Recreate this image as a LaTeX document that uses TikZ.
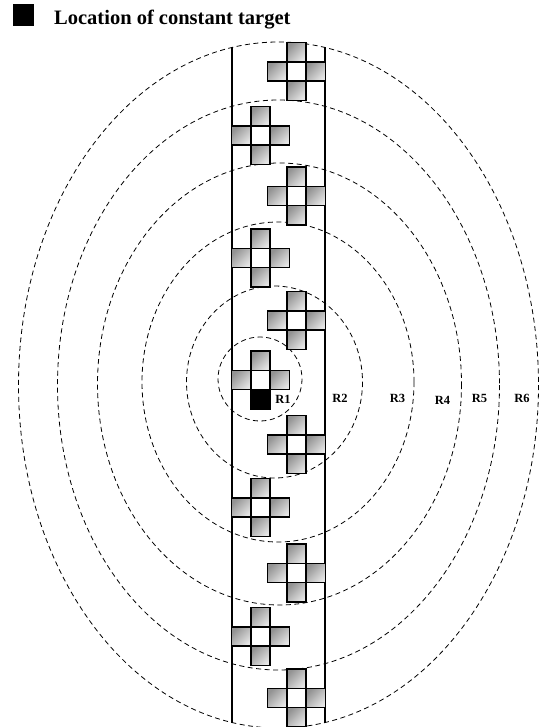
\documentclass[tikz,border=0pt]{standalone}
\usepackage{fontspec}
\setmainfont{Liberation Serif}
\usepackage{tikz}
\usetikzlibrary{positioning}

\begin{document}
\begin{tikzpicture}[
  x=1pt, y=-1pt,
  ring/.style={draw, dash pattern=on 5pt off 3.5pt, line width=0.8pt},
  wall/.style={draw, line width=1.4pt},
  cell/.style={draw, line width=1.6pt, shading=axis, top color=gray!85,
    bottom color=gray!20, shading angle=45},
  hole/.style={draw, line width=1.6pt, fill=white},
  target/.style={draw, line width=1.6pt, fill=black},
  rlabel/.style={font=\fontsize{12.5}{14}\selectfont\bfseries, inner sep=0pt}
]
\useasboundingbox (0,0) rectangle (539,727);

% rings round the target
\draw[ring] (260,379) circle [radius=42];
\draw[ring] (274.5,382) ellipse [x radius=88, y radius=96];
\draw[ring] (278,382) ellipse [x radius=136, y radius=160];
\draw[ring] (279.5,384) ellipse [x radius=182, y radius=221];
\draw[ring] (278.5,385) ellipse [x radius=221, y radius=285];
\draw[ring] (278.5,385) ellipse [x radius=260, y radius=343];

% corridor
\coordinate (wl top) at (232,47.5);
\coordinate (wl bot) at (232,722.5);
\coordinate (wr top) at (325,47.5);
\coordinate (wr bot) at (325,722.5);
\draw[wall] (wl top) -- (wl bot);
\draw[wall] (wr top) -- (wr bot);

% crosses
\def\cs{19.3}
\foreach \cx/\cy in {296.5/71.5, 260.5/135.5, 296.5/196, 260.5/258,
    296.5/320.5, 260.5/380, 296.5/444.5, 260.5/507.5, 296.5/573,
    260.5/636.5, 296.5/698} {
  \foreach \dx/\dy in {0/-1, -1/0, 1/0, 0/1}
    \draw[cell] (\cx+\dx*\cs-\cs/2, \cy+\dy*\cs-\cs/2) rectangle ++(\cs,\cs);
  \draw[hole] (\cx-\cs/2, \cy-\cs/2) rectangle ++(\cs,\cs);
}
% constant target
\draw[target] (260.5-\cs/2, 380+\cs/2) rectangle ++(\cs,\cs);

% ring labels
\node[rlabel] (r1) at (283,399) {R1};
\node[rlabel] (r2) at (340,398) {R2};
\node[rlabel] (r3) at (397.5,398) {R3};
\node[rlabel] (r4) at (442.5,400) {R4};
\node[rlabel] (r5) at (479.5,398) {R5};
\node[rlabel] (r6) at (522,398) {R6};

% legend
\node[fill=black, minimum width=21pt, minimum height=22pt, inner sep=0pt]
  (key) at (23.5,15) {};
\node[font=\fontsize{20.5}{24}\selectfont\bfseries, inner sep=0pt,
  anchor=base west] (keytext) at (54,25) {Location of constant target};
\end{tikzpicture}
\end{document}
